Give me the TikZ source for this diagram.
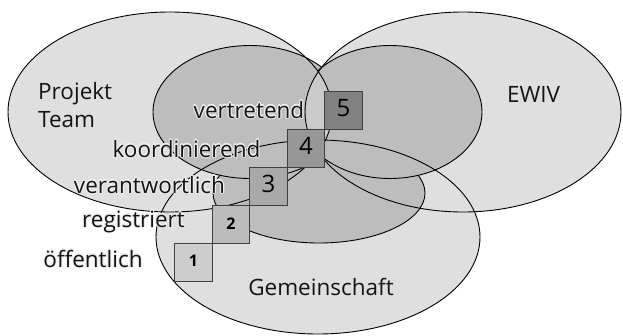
\documentclass[tikz,border=0pt]{standalone}
\usepackage{fontspec}
\setmainfont{Open Sans}
\definecolor{outerfill}{HTML}{DFDFDF}
\definecolor{innerfill}{HTML}{BDBDBD}
\definecolor{lensfill}{HTML}{CBCBCB}
\definecolor{halo}{HTML}{EEEEEE}
\definecolor{lvone}{HTML}{CDCDCD}
\definecolor{lvtwo}{HTML}{BCBCBC}
\definecolor{lvthree}{HTML}{A9A9A9}
\definecolor{lvfour}{HTML}{979797}
\definecolor{lvfive}{HTML}{818181}
\begin{document}
\begin{tikzpicture}[x=1pt,y=-1pt,
  ring/.style={draw=black,line width=0.9pt},
  lbl/.style={inner sep=0pt,font=\fontsize{22.5}{28}\selectfont,text=black!92},
  lvlbox/.style={draw=black!75,line width=0.8pt,minimum width=37.5pt,minimum height=38pt,inner sep=0pt},
  bignum/.style={font=\fontsize{24}{24}\selectfont},
  smallnum/.style={font=\fontsize{16}{16}\selectfont\bfseries}]
\useasboundingbox (0,0) rectangle (623,335);

% the three groups and their inner cores
\def\bigP{(170,112) ellipse [x radius=162pt, y radius=100pt]}
\def\bigE{(463,112) ellipse [x radius=158pt, y radius=100pt]}
\def\bigG{(318,237) ellipse [x radius=162pt, y radius=97pt]}
\def\inP{(250,112) ellipse [x radius=97pt, y radius=66.5pt]}
\def\inE{(390,112) ellipse [x radius=92pt, y radius=66.5pt]}
\def\inG{(319,193) ellipse [x radius=106pt, y radius=50pt]}

% label with a light halo; #2 is a bare "x,y" pair
\newcommand{\halolabel}[4]{%
  \foreach \hx/\hy [count=\hi] in {1.1/0,-1.1/0,0/1.1,0/-1.1,.8/.8,-.8/.8,.8/-.8,-.8/-.8}{
    \node[lbl,text=halo,anchor=#3] (#1h\hi) at ([shift={(\hx,\hy)}]#2) {#4};}
  \node[lbl,anchor=#3] (#1) at (#2) {#4};}

% fills
\fill[outerfill] \bigP;
\fill[outerfill] \bigE;
\fill[outerfill] \bigG;
\fill[innerfill] \inG;
\fill[innerfill] \inP;
\fill[innerfill] \inE;
\begin{scope}
  \clip \bigP;
  \fill[lensfill] \bigE;
\end{scope}

% outlines
\draw[ring] \bigP;
\draw[ring] \bigE;
\draw[ring] \bigG;
\begin{scope}[even odd rule]
  \clip (-5,-5) rectangle (630,340) \bigE;
  \draw[ring] \inP;
\end{scope}
\begin{scope}[even odd rule]
  \clip (-5,-5) rectangle (630,340) \bigP;
  \draw[ring] \inE;
\end{scope}
\begin{scope}[even odd rule]
  \clip (-5,-5) rectangle (630,340) \inP;
  \clip (-5,-5) rectangle (630,340) \inE;
  \draw[ring] \inG;
\end{scope}

% staircase of levels
\node[lvlbox,fill=lvone]   (b1) at (193.5,262) {};
\node[lvlbox,fill=lvtwo]   (b2) at (231,224)   {};
\node[lvlbox,fill=lvthree] (b3) at (268.5,186) {};
\node[lvlbox,fill=lvfour]  (b4) at (306,148)   {};
\node[lvlbox,fill=lvfive]  (b5) at (343.5,110) {};
\node[smallnum] (n1) at ([yshift=1]b1.center) {1};
\node[smallnum] (n2) at ([yshift=0]b2.center) {2};
\node[bignum]   (n3) at ([yshift=2]b3.center) {3};
\node[bignum]   (n4) at ([yshift=2]b4.center) {4};
\node[bignum]   (n5) at ([yshift=2]b5.center) {5};

% labels
\node[lbl,align=left,anchor=west] (team) at (38,105.5) {Projekt\\Team};
\node[lbl,anchor=base] (ewiv) at (533.5,102) {EWIV};
\node[lbl,anchor=base] (gem) at (321,295) {Gemeinschaft};
\halolabel{lv5}{249,118}{base}{vertretend}
\halolabel{lv4}{186.5,157}{base}{koordinierend}
\halolabel{lv3}{149.5,193}{base}{verantwortlich}
\halolabel{lv2}{133.5,227}{base}{registriert}
\halolabel{lv1}{93,267}{base}{öffentlich}
\end{tikzpicture}
\end{document}
